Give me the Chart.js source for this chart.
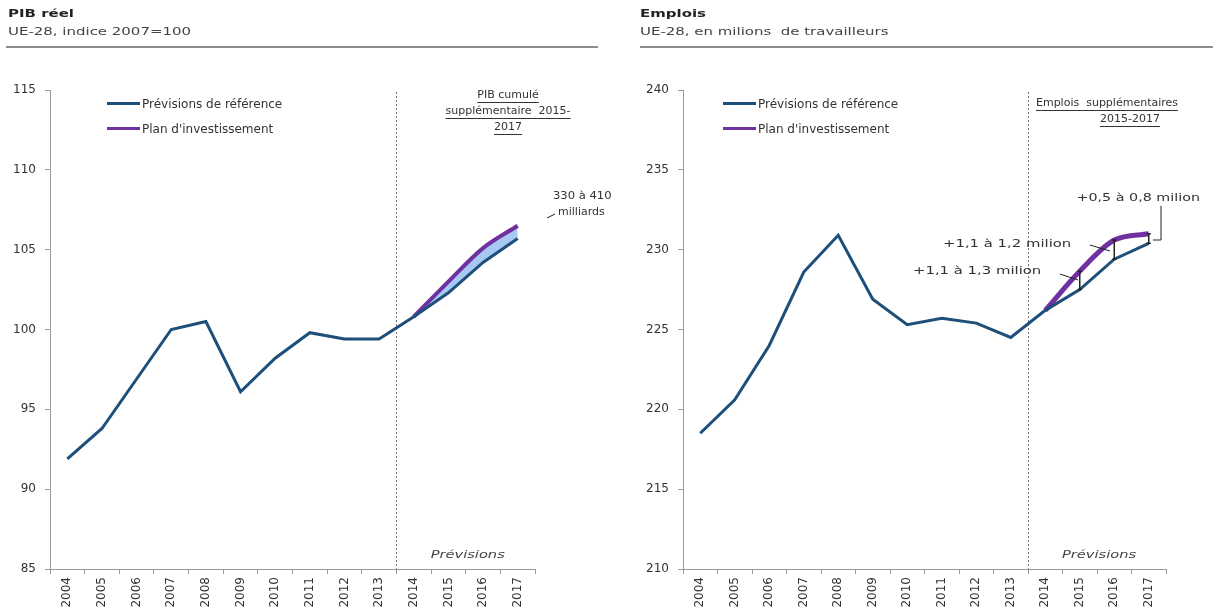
<!DOCTYPE html>
<html lang="fr">
<head>
<meta charset="utf-8">
<script src="https://cdn.jsdelivr.net/npm/chart.js@4"></script>
<style>
  body { margin: 0; width: 1228px; height: 613px; background: #fff; position: relative; overflow: hidden;
         font-family: "DejaVu Sans", Verdana, sans-serif; }
  .panneau { position: absolute; top: 0; width: 614px; height: 613px; }
  .panneau canvas { position: absolute; left: 0; top: 0; }
  .titre, .sous-titre { position: absolute; font-size: 11px; white-space: nowrap;
                        transform: scaleX(1.36); transform-origin: 0 0; }
  .titre { top: 7px; font-weight: bold; color: #222; }
  .sous-titre { top: 25px; color: #444; }
  .regle { position: absolute; top: 46px; height: 2px; background: #8c8c8c; }
  .legende { position: absolute; top: 91px; font-size: 12px; color: #333; }
  .legende .ligne { display: flex; align-items: center; height: 25px; }
  .legende .trait { width: 33px; height: 3px; margin-right: 2px; }
</style>
</head>
<body>

<div class="panneau" style="left:0">
  <canvas id="graphique-pib" width="614" height="613"></canvas>
  <div class="titre" style="left:8px">PIB réel</div>
  <div class="sous-titre" style="left:8px">UE-28, indice 2007=100</div>
  <div class="regle" style="left:6px; width:592px"></div>
  <div class="legende" id="legende-pib" style="left:107px"></div>
</div>

<div class="panneau" style="left:614px">
  <canvas id="graphique-emplois" width="614" height="613"></canvas>
  <div class="titre" style="left:26px">Emplois</div>
  <div class="sous-titre" style="left:26px">UE-28, en milions&nbsp; de travailleurs</div>
  <div class="regle" style="left:26px; width:573px"></div>
  <div class="legende" id="legende-emplois" style="left:109px"></div>
</div>

<script>
// séries
const annees = ['2004', '2005', '2006', '2007', '2008', '2009', '2010', '2011', '2012', '2013', '2014', '2015', '2016', '2017'];

const pibReference = [91.9, 93.8, 96.9, 100.0, 100.5, 96.1, 98.2, 99.8, 99.4, 99.4, 100.8, 102.3, 104.2, 105.7];
const pibPlan = [null, null, null, null, null, null, null, null, null, null, 100.8, 103.0, 105.1, 106.5];
const pibTicks = [85, 90, 95, 100, 105, 110, 115];

const emploisReference = [218.5, 220.6, 224.0, 228.6, 230.9, 226.9, 225.3, 225.7, 225.4, 224.5, 226.2, 227.5, 229.4, 230.4];
const emploisPlan = [null, null, null, null, null, null, null, null, null, null, 226.2, 228.65, 230.6, 231.0];
const emploisTicks = [210, 215, 220, 225, 230, 235, 240];

const nomReference = 'Prévisions de référence';
const nomPlan = "Plan d'investissement";

const BLEU = '#1d4f7a';
const VIOLET = '#7030a0';
const BLEU_CLAIR = '#a6c8f2';
const POLICE = '"DejaVu Sans", Verdana, sans-serif';

// texte élargi horizontalement
function texteLarge(ctx, texte, x, y, align, sx) {
  const w = ctx.measureText(texte).width * sx;
  const x0 = align === 'center' ? x - w / 2 : align === 'right' ? x - w : x;
  ctx.save();
  ctx.translate(x0, y);
  ctx.scale(sx, 1);
  ctx.textAlign = 'left';
  ctx.fillText(texte, 0, 0);
  ctx.restore();
  return { x0, w };
}

// ligne pointillée entre 2013 et 2014 + mention « Prévisions »
const lignePrevision = {
  id: 'lignePrevision',
  beforeDatasetsDraw(chart) {
    const { ctx, chartArea, scales: { x } } = chart;
    const xp = (x.getPixelForValue(9) + x.getPixelForValue(10)) / 2;
    ctx.save();
    ctx.strokeStyle = '#777';
    ctx.lineWidth = 1;
    ctx.setLineDash([2, 2]);
    ctx.beginPath();
    ctx.moveTo(Math.round(xp) + 0.5, chartArea.top + 2);
    ctx.lineTo(Math.round(xp) + 0.5, chartArea.bottom);
    ctx.stroke();
    ctx.setLineDash([]);
    ctx.fillStyle = '#444';
    ctx.font = 'italic 11px ' + POLICE;
    ctx.textBaseline = 'middle';
    texteLarge(ctx, 'Prévisions', (x.getPixelForValue(11) + x.getPixelForValue(12)) / 2 + 2, chartArea.bottom - 14, 'center', 1.33);
    ctx.restore();
  }
};

// textes, traits de rappel et écarts entre les deux scénarios
const notes = {
  id: 'notes',
  afterDatasetsDraw(chart, args, opts) {
    const { ctx, scales: { x, y } } = chart;
    ctx.save();
    ctx.fillStyle = '#333';
    ctx.strokeStyle = '#222';
    ctx.textBaseline = 'middle';
    ctx.font = '11px ' + POLICE;
    (opts.textes || []).forEach(t => {
      const r = texteLarge(ctx, t.texte, t.x, t.y, t.align || 'left', t.sx || 1);
      if (t.souligne) ctx.fillRect(r.x0, t.y + 7, r.w, 1);
    });
    ctx.lineWidth = 1;
    (opts.traits || []).forEach(p => {
      ctx.beginPath();
      ctx.moveTo(p[0][0], p[0][1]);
      for (let i = 1; i < p.length; i++) ctx.lineTo(p[i][0], p[i][1]);
      ctx.stroke();
    });
    // petits crochets entre la référence et le plan
    ctx.lineWidth = 1.5;
    (opts.ecarts || []).forEach(i => {
      const xp = x.getPixelForValue(i);
      const y1 = y.getPixelForValue(opts.plan[i]);
      const y2 = y.getPixelForValue(opts.reference[i]);
      ctx.beginPath();
      ctx.moveTo(xp, y1); ctx.lineTo(xp, y2);
      ctx.moveTo(xp - 2, y1); ctx.lineTo(xp + 2, y1);
      ctx.moveTo(xp - 2, y2); ctx.lineTo(xp + 2, y2);
      ctx.stroke();
    });
    ctx.restore();
  }
};

function creerGraphique(id, reference, plan, ticks, cadre, remplir, epaisseurPlan, optNotes) {
  const axeCouleur = '#9a9a9a';
  return new Chart(document.getElementById(id), {
    type: 'line',
    data: {
      labels: annees,
      datasets: [
        { label: nomReference, data: reference, borderColor: BLEU, borderWidth: 3, pointRadius: 0, fill: false, tension: 0 },
        { label: nomPlan, data: plan, borderColor: VIOLET, borderWidth: epaisseurPlan, pointRadius: 0,
          cubicInterpolationMode: 'monotone',
          fill: remplir ? { target: 0 } : false, backgroundColor: BLEU_CLAIR }
      ]
    },
    options: {
      responsive: false,
      animation: false,
      layout: { padding: { left: 0, right: cadre.droite, top: 90, bottom: 0 } },
      plugins: { legend: { display: false }, tooltip: { enabled: false }, notes: optNotes },
      scales: {
        x: {
          offset: true,
          grid: { offset: true, drawOnChartArea: false, tickLength: 5, color: axeCouleur },
          border: { color: axeCouleur },
          ticks: { autoSkip: false, minRotation: 90, maxRotation: 90, padding: 3, color: '#333', font: { family: POLICE, size: 12 } },
          afterFit: s => { s.height = 44; }
        },
        y: {
          min: ticks[0], max: ticks[ticks.length - 1],
          afterBuildTicks: s => { s.ticks = ticks.map(v => ({ value: v })); },
          grid: { drawOnChartArea: false, tickLength: 5, color: axeCouleur },
          border: { color: axeCouleur },
          ticks: { padding: 9, color: '#333', font: { family: POLICE, size: 12 } },
          afterFit: s => { s.width = cadre.gauche; }
        }
      }
    },
    plugins: [lignePrevision, notes]
  });
}

function legende(id) {
  const el = document.getElementById(id);
  [[nomReference, BLEU], [nomPlan, VIOLET]].forEach(([nom, couleur]) => {
    const ligne = document.createElement('div');
    ligne.className = 'ligne';
    ligne.innerHTML = `<span class="trait" style="background:${couleur}"></span><span>${nom}</span>`;
    el.appendChild(ligne);
  });
}

creerGraphique('graphique-pib', pibReference, pibPlan, pibTicks, { gauche: 50, droite: 79 }, true, 4, {
  textes: [
    { texte: 'PIB cumulé', x: 508, y: 95, align: 'center', souligne: true },
    { texte: 'supplémentaire  2015-', x: 508, y: 111, align: 'center', souligne: true },
    { texte: '2017', x: 508, y: 127, align: 'center', souligne: true },
    { texte: '330 à 410', x: 553, y: 196, sx: 1.05 },
    { texte: 'milliards', x: 558, y: 212 }
  ],
  traits: [[[547, 218], [555, 214]]]
});

creerGraphique('graphique-emplois', emploisReference, emploisPlan, emploisTicks, { gauche: 69, droite: 62 }, false, 5, {
  textes: [
    { texte: 'Emplois  supplémentaires', x: 493, y: 103, align: 'center', souligne: true },
    { texte: '2015-2017', x: 516, y: 119, align: 'center', souligne: true },
    { texte: '+0,5 à 0,8 milion', x: 586, y: 198, align: 'right', sx: 1.3 },
    { texte: '+1,1 à 1,2 milion', x: 329, y: 244, sx: 1.35 },
    { texte: '+1,1 à 1,3 milion', x: 299, y: 271, sx: 1.35 }
  ],
  traits: [
    [[547, 206], [547, 240], [539, 240]],
    [[476, 245], [496, 251]],
    [[446, 274], [464, 280]]
  ],
  ecarts: [11, 12, 13],
  plan: emploisPlan,
  reference: emploisReference
});

legende('legende-pib');
legende('legende-emplois');
</script>
</body>
</html>
